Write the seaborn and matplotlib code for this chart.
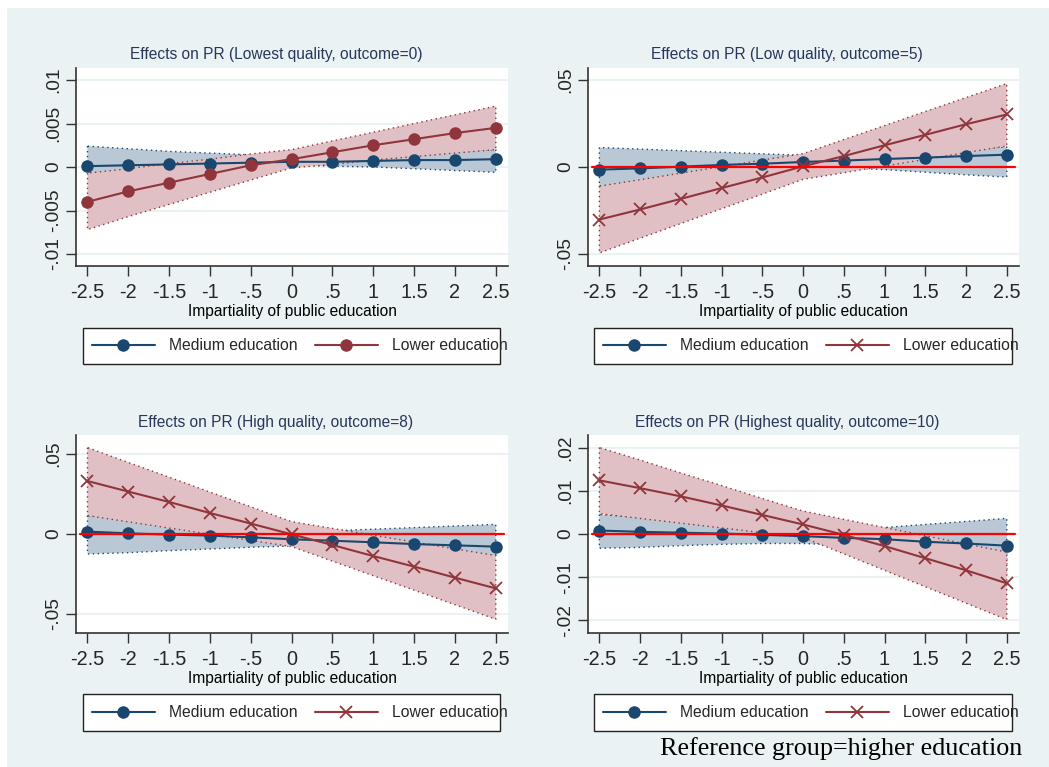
import matplotlib.pyplot as plt
import matplotlib.patches as mpatches
import seaborn as sns

# impartiality values (x axis)
xs = [-2.5, -2, -1.5, -1, -0.5, 0, 0.5, 1, 1.5, 2, 2.5]
xtick_labels = ["-2.5", "-2", "-1.5", "-1", "-.5", "0", ".5", "1", "1.5", "2", "2.5"]

# Lowest quality, outcome=0
p1_med = [0.0001, 0.0002, 0.0003, 0.0004, 0.0005, 0.0006, 0.0006, 0.0007, 0.0008, 0.0008, 0.0009]
p1_med_hi = [0.0024, 0.0021, 0.0018, 0.0016, 0.0014, 0.0011, 0.0013, 0.0015, 0.0017, 0.0018, 0.0020]
p1_med_lo = [-0.0007, -0.0005, -0.0003, -0.0001, 0.0001, 0.0002, 0.0001, 0.0000, -0.0002, -0.0004, -0.0006]
p1_low = [-0.0040, -0.0028, -0.0018, -0.0008, 0.0002, 0.0009, 0.0017, 0.0025, 0.0032, 0.0039, 0.0045]
p1_low_hi = [-0.0007, -0.0002, 0.0004, 0.0009, 0.0015, 0.0020, 0.0030, 0.0040, 0.0050, 0.0060, 0.0070]
p1_low_lo = [-0.0072, -0.0057, -0.0043, -0.0029, -0.0015, -0.0001, 0.0003, 0.0008, 0.0012, 0.0016, 0.0020]

# Low quality, outcome=5
p2_med = [-0.0015, -0.0008, 0.0002, 0.0012, 0.0019, 0.0029, 0.0037, 0.0046, 0.0054, 0.0063, 0.0071]
p2_med_hi = [0.0112, 0.0103, 0.0094, 0.0085, 0.0076, 0.0067, 0.0076, 0.0085, 0.0095, 0.0105, 0.0115]
p2_med_lo = [-0.0110, -0.0090, -0.0070, -0.0052, -0.0035, -0.0015, -0.0005, -0.0015, -0.0030, -0.0045, -0.0058]
p2_low = [-0.0302, -0.0244, -0.0183, -0.0121, -0.0060, 0.0004, 0.0063, 0.0125, 0.0185, 0.0246, 0.0302]
p2_low_hi = [-0.0110, -0.0073, -0.0035, 0.0002, 0.0040, 0.0077, 0.0158, 0.0238, 0.0319, 0.0399, 0.0480]
p2_low_lo = [-0.0494, -0.0409, -0.0325, -0.0240, -0.0156, -0.0071, -0.0033, 0.0006, 0.0044, 0.0083, 0.0121]

# High quality, outcome=8
p3_med = [0.0015, 0.0004, -0.0004, -0.0010, -0.0021, -0.0033, -0.0042, -0.0052, -0.0063, -0.0071, -0.0079]
p3_med_hi = [0.0115, 0.0095, 0.0075, 0.0055, 0.0035, 0.0015, 0.0020, 0.0030, 0.0040, 0.0050, 0.0060]
p3_med_lo = [-0.0125, -0.0117, -0.0104, -0.0094, -0.0083, -0.0075, -0.0095, -0.0105, -0.0115, -0.0125, -0.0135]
p3_low = [0.0331, 0.0265, 0.0200, 0.0131, 0.0065, -0.0002, -0.0069, -0.0138, -0.0204, -0.0273, -0.0340]
p3_low_hi = [0.0540, 0.0447, 0.0355, 0.0262, 0.0170, 0.0077, 0.0035, -0.0008, -0.0050, -0.0093, -0.0135]
p3_low_lo = [0.0115, 0.0076, 0.0037, -0.0001, -0.0040, -0.0079, -0.0170, -0.0261, -0.0351, -0.0442, -0.0533]

# Highest quality, outcome=10
p4_med = [0.0008, 0.0005, 0.0003, 0.0001, -0.0002, -0.0005, -0.0009, -0.0012, -0.0018, -0.0022, -0.0027]
p4_med_hi = [0.0045, 0.0039, 0.0032, 0.0025, 0.0018, 0.0011, 0.0008, 0.0015, 0.0022, 0.0029, 0.0036]
p4_med_lo = [-0.0033, -0.0031, -0.0027, -0.0024, -0.0022, -0.0022, -0.0026, -0.0040, -0.0058, -0.0073, -0.0090]
p4_low = [0.0124, 0.0106, 0.0087, 0.0066, 0.0044, 0.0022, -0.0002, -0.0028, -0.0056, -0.0084, -0.0114]
p4_low_hi = [0.0200, 0.0171, 0.0141, 0.0112, 0.0082, 0.0053, 0.0034, 0.0015, -0.0004, -0.0023, -0.0042]
p4_low_lo = [0.0047, 0.0036, 0.0025, 0.0014, 0.0003, -0.0008, -0.0046, -0.0084, -0.0122, -0.0160, -0.0198]

NAVY = "#1a476f"
MAROON = "#90353b"
BAND_BLUE = "#b9c8d4"
BAND_RED = "#e0c0c4"
BG = "#eaf2f3"
TITLE_COL = "#27365a"

sns.set_theme(style="white")
plt.rcParams["font.family"] = ["Liberation Sans", "DejaVu Sans"]

W, H = 1049, 767
fig = plt.figure(figsize=(W / 100, H / 100), dpi=100)
fig.patch.set_facecolor("white")
fig.patches.append(mpatches.Rectangle((7 / W, 0), 1, 1 - 8 / H, transform=fig.transFigure,
                                      facecolor=BG, edgecolor="none", zorder=-10))


def draw_panel(rect, title, title_xy, med, med_lo, med_hi, low, low_lo, low_hi,
               low_marker, yticks, ylabels, ylim, zero_line, legend_box):
    ax = fig.add_axes(rect)
    ax.set_facecolor("white")

    ax.fill_between(xs, med_lo, med_hi, facecolor=BAND_BLUE, edgecolor=NAVY,
                    linestyle=(0, (1, 2.5)), linewidth=1, zorder=2)
    ax.fill_between(xs, low_lo, low_hi, facecolor=BAND_RED, edgecolor=MAROON,
                    linestyle=(0, (1, 2.5)), linewidth=1, zorder=3)

    sns.lineplot(x=xs, y=med, ax=ax, color=NAVY, marker="o", markersize=9,
                 markeredgecolor=NAVY, markeredgewidth=0, linewidth=1.5,
                 label="Medium education", zorder=4)
    if low_marker == "o":
        sns.lineplot(x=xs, y=low, ax=ax, color=MAROON, marker="o", markersize=9,
                     markeredgecolor=MAROON, markeredgewidth=0, linewidth=1.5,
                     label="Lower education", zorder=5)
    else:
        sns.lineplot(x=xs, y=low, ax=ax, color=MAROON, marker="x", markersize=8,
                     markeredgecolor=MAROON, markeredgewidth=1.3, linewidth=1.5,
                     label="Lower education", zorder=5)

    if zero_line:
        ax.axhline(0, xmin=0.01, xmax=0.99, color="#ff0000", linewidth=1.6, zorder=6)

    ax.set_xlim(-2.64, 2.65)
    ax.set_ylim(*ylim)
    ax.set_xticks(xs)
    ax.set_xticklabels(xtick_labels)
    ax.set_yticks(yticks)
    ax.set_yticklabels(ylabels, rotation=90, va="center")
    ax.tick_params(axis="x", labelsize=14.3, length=7, width=1, color="#333333", pad=5, direction="out",
                   bottom=True)
    ax.tick_params(axis="y", labelsize=13.8, length=7, width=1, color="#333333", pad=3, direction="out",
                   left=True)
    ax.yaxis.grid(True, color=BG, linewidth=1.5)
    ax.set_axisbelow(True)
    for side in ["top", "right"]:
        ax.spines[side].set_visible(False)
    for side in ["left", "bottom"]:
        ax.spines[side].set_color("#333333")
        ax.spines[side].set_linewidth(1.2)
    ax.set_xlabel("Impartiality of public education", fontsize=11.2, labelpad=2, color="black")
    ax.set_ylabel("")

    fig.text(title_xy[0], title_xy[1], title, ha="center", va="center", fontsize=11.2, color=TITLE_COL)

    # legend box drawn by hand (below the axes layer), entries placed inside it
    x0, x1, y0, y1 = legend_box
    fig.patches.append(mpatches.Rectangle((x0 / W, 1 - y1 / H), (x1 - x0) / W, (y1 - y0) / H,
                                          transform=fig.transFigure, facecolor="white",
                                          edgecolor="#222222", linewidth=1.0, zorder=-5))
    handles, labels = ax.get_legend_handles_labels()
    leg = ax.legend(handles, labels, loc="center left",
                    bbox_to_anchor=((x0 + 9) / W, 1 - (y0 + y1) / 2 / H), bbox_transform=fig.transFigure,
                    ncol=2, fontsize=11.3, frameon=False, handlelength=4,
                    handletextpad=0.9, columnspacing=1.1, borderpad=0, borderaxespad=0)
    leg.set_zorder(10)
    return ax


draw_panel([0.0725, 0.6532, 0.4118, 0.2581], "Effects on PR (Lowest quality, outcome=0)", (0.263, 0.9283),
           p1_med, p1_med_lo, p1_med_hi, p1_low, p1_low_lo, p1_low_hi, "o",
           [-0.01, -0.005, 0, 0.005, 0.01], ["-.01", "-.005", "0", ".005", ".01"], (-0.01138, 0.01138),
           False, (83, 500, 328, 364))

draw_panel([0.5605, 0.6532, 0.4109, 0.2581], "Effects on PR (Low quality, outcome=5)", (0.750, 0.9283),
           p2_med, p2_med_lo, p2_med_hi, p2_low, p2_low_lo, p2_low_hi, "x",
           [-0.05, 0, 0.05], ["-.05", "0", ".05"], (-0.0569, 0.0569),
           True, (594, 1012, 328, 364))

draw_panel([0.0725, 0.1747, 0.4118, 0.2582], "Effects on PR (High quality, outcome=8)", (0.2626, 0.4498),
           p3_med, p3_med_lo, p3_med_hi, p3_low, p3_low_lo, p3_low_hi, "x",
           [-0.05, 0, 0.05], ["-.05", "0", ".05"], (-0.0619, 0.0619),
           True, (83, 500, 694, 731))

draw_panel([0.5605, 0.1747, 0.4109, 0.2582], "Effects on PR (Highest quality, outcome=10)", (0.7507, 0.4498),
           p4_med, p4_med_lo, p4_med_hi, p4_low, p4_low_lo, p4_low_hi, "x",
           [-0.02, -0.01, 0, 0.01, 0.02], ["-.02", "-.01", "0", ".01", ".02"], (-0.0229, 0.0229),
           True, (594, 1012, 694, 731))

fig.text(1022 / W, 1 - 749 / H, "Reference group=higher education", ha="right", va="center",
         fontsize=18.8, family=["Liberation Serif", "DejaVu Serif"], color="black")

fig.savefig("out.png", dpi=100, facecolor=fig.get_facecolor())
